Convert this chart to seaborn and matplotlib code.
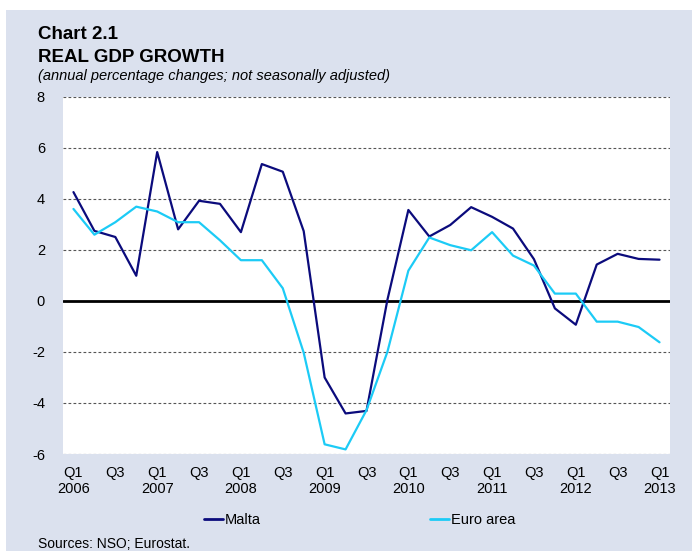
import pandas as pd
import matplotlib
import matplotlib.pyplot as plt
import seaborn as sns
import numpy as np
from matplotlib.patches import Rectangle

# quarterly data, Q1 2006 .. Q1 2013
quarters = ['Q1 2006', 'Q2 2006', 'Q3 2006', 'Q4 2006',
            'Q1 2007', 'Q2 2007', 'Q3 2007', 'Q4 2007',
            'Q1 2008', 'Q2 2008', 'Q3 2008', 'Q4 2008',
            'Q1 2009', 'Q2 2009', 'Q3 2009', 'Q4 2009',
            'Q1 2010', 'Q2 2010', 'Q3 2010', 'Q4 2010',
            'Q1 2011', 'Q2 2011', 'Q3 2011', 'Q4 2011',
            'Q1 2012', 'Q2 2012', 'Q3 2012', 'Q4 2012',
            'Q1 2013']
malta = [4.27, 2.75, 2.51, 0.99, 5.84, 2.81, 3.93, 3.81,
         2.70, 5.37, 5.07, 2.74, -3.00, -4.41, -4.31, 0.05,
         3.57, 2.53, 2.98, 3.68, 3.30, 2.84, 1.64, -0.29,
         -0.93, 1.43, 1.85, 1.65, 1.62]
euro_area = [3.61, 2.60, 3.09, 3.70, 3.51, 3.09, 3.09, 2.38,
             1.60, 1.60, 0.50, -2.03, -5.62, -5.82, -4.28, -1.99,
             1.19, 2.49, 2.19, 1.99, 2.70, 1.78, 1.39, 0.29,
             0.29, -0.81, -0.81, -1.02, -1.62]
tick_labels = ['Q1\n2006', 'Q3', 'Q1\n2007', 'Q3', 'Q1\n2008', 'Q3',
               'Q1\n2009', 'Q3', 'Q1\n2010', 'Q3', 'Q1\n2011', 'Q3',
               'Q1\n2012', 'Q3', 'Q1\n2013']
y_ticks = [-6, -4, -2, 0, 2, 4, 6, 8]

sns.set_style('white')
plt.rcParams['font.family'] = ['Liberation Sans', 'DejaVu Sans']
plt.rcParams['text.color'] = 'black'
plt.rcParams['xtick.color'] = 'black'
plt.rcParams['ytick.color'] = 'black'

bg = '#dbe1ee'
colors = {'Malta': '#0b0b7c', 'Euro area': '#1ccbf6'}

df = pd.DataFrame({'x': np.arange(len(quarters)), 'Malta': malta, 'Euro area': euro_area})
long = df.melt(id_vars='x', var_name='series', value_name='value')

fig = plt.figure(figsize=(6.92, 5.51), dpi=100, facecolor=bg)
# white strips at top and left of the original image
fig.patches.append(Rectangle((0, 1 - 10 / 551), 1, 10 / 551, transform=fig.transFigure,
                             facecolor='white', edgecolor='none', zorder=0))
fig.patches.append(Rectangle((0, 0), 6 / 692, 1, transform=fig.transFigure,
                             facecolor='white', edgecolor='none', zorder=0))

ax = fig.add_axes([63 / 692, 1 - 454 / 551, 607 / 692, 357 / 551])
ax.set_facecolor('white')

for y in y_ticks:
    if y != 0:
        ax.axhline(y, color='#555555', lw=0.8, ls=(0, (2.5, 2)), zorder=1)
ax.axhline(0, color='black', lw=2, zorder=2)

sns.lineplot(data=long, x='x', y='value', hue='series', palette=colors,
             linewidth=1.6, ax=ax, legend=False, zorder=3)

ax.set_xlim(-0.5, len(quarters) - 0.5)
ax.set_ylim(-6, 8)
ax.set_yticks(y_ticks)
ax.set_yticklabels([str(v) for v in y_ticks], fontsize=10.5)
ax.set_xticks(np.arange(0, len(quarters), 2))
ax.set_xticklabels(tick_labels, fontsize=10.5, linespacing=1.15)
ax.tick_params(axis='both', length=0)
ax.tick_params(axis='y', pad=13)
ax.tick_params(axis='x', pad=9)
ax.set_xlabel('')
ax.set_ylabel('')
for s in ax.spines.values():
    s.set_visible(False)

# legend
handles = [plt.Line2D([], [], color=colors[k], lw=2) for k in ['Malta', 'Euro area']]
fig.legend(handles, ['Malta', 'Euro area'], loc='center', bbox_to_anchor=(0.5195, 1 - 520 / 551),
           ncol=2, frameon=False, fontsize=10.5, handlelength=1.3, handletextpad=0.15,
           columnspacing=11.6)

fig.text(38 / 692, 1 - 39 / 551, 'Chart 2.1', fontsize=13.5, fontweight='bold', va='baseline')
fig.text(38 / 692, 1 - 62 / 551, 'REAL GDP GROWTH', fontsize=13.5, fontweight='bold', va='baseline')
fig.text(38 / 692, 1 - 80 / 551, '(annual percentage changes; not seasonally adjusted)',
         fontsize=10.5, style='italic', va='baseline')
fig.text(38 / 692, 1 - 548 / 551, 'Sources: NSO; Eurostat.', fontsize=10, va='baseline')

plt.savefig('out.png', dpi=100, facecolor=bg)
